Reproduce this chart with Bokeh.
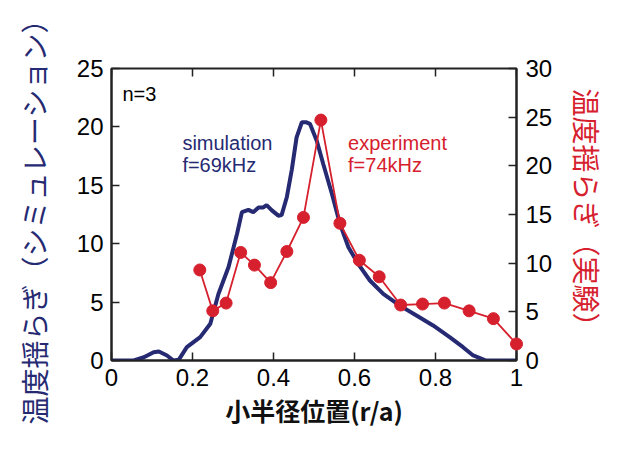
import math
from bokeh.plotting import figure
from bokeh.models import Range1d, LinearAxis, FixedTicker, Label
from bokeh.embed import file_html
from bokeh.resources import INLINE

# Simulation (left axis, 0-25)
sim_x = [0, 0.055, 0.08, 0.104, 0.117, 0.137, 0.153, 0.166, 0.186, 0.219, 0.244, 0.264,
         0.289, 0.31, 0.322, 0.338, 0.35, 0.363, 0.375, 0.383, 0.396, 0.412, 0.42, 0.433,
         0.445, 0.457, 0.47, 0.48, 0.49, 0.507, 0.523, 0.544, 0.564, 0.585, 0.609, 0.638,
         0.671, 0.712, 0.753, 0.794, 0.835, 0.868, 0.893, 0.925, 1.0]
sim_y = [0, 0, 0.28, 0.71, 0.77, 0.43, 0, 0.06, 1.14, 2.0, 3.14, 5.7,
         8.0, 10.85, 12.7, 12.9, 12.7, 13.1, 13.1, 13.3, 12.85, 12.4, 12.45, 14.0,
         16.3, 19.1, 20.4, 20.4, 20.26, 18.8, 16.8, 14.3, 11.7, 9.7, 8.28, 6.85,
         5.71, 4.7, 3.85, 3.0, 2.0, 1.14, 0.43, 0, 0]

# Experiment (right axis, 0-30)
exp_x = [0.218, 0.250, 0.283, 0.319, 0.353, 0.393, 0.433, 0.474, 0.517, 0.564, 0.612,
         0.661, 0.714, 0.768, 0.822, 0.883, 0.943, 1.0]
exp_y = [9.3, 5.1, 5.9, 11.1, 9.8, 8.0, 11.2, 14.7, 24.7, 14.1, 10.3,
         8.6, 5.7, 5.8, 5.9, 5.1, 4.3, 1.7]

x_ticks = [0, 0.2, 0.4, 0.6, 0.8, 1]
left_ticks = [0, 5, 10, 15, 20, 25]
right_ticks = [0, 5, 10, 15, 20, 25, 30]

NAVY = "#262a72"
RED = "#d6202e"
AXC = "#222222"
TICK_FONT = "Liberation Sans"
JP_FONT = "Noto Sans CJK JP"

p = figure(width=610, height=448, x_range=Range1d(0, 1), y_range=Range1d(0, 25),
           output_backend="svg", toolbar_location=None,
           min_border_left=111, min_border_right=93, min_border_top=68, min_border_bottom=88)
p.extra_y_ranges = {"right": Range1d(0, 30)}
p.xgrid.visible = False
p.ygrid.visible = False
p.outline_line_color = AXC
p.outline_line_width = 2
p.background_fill_color = "white"
p.border_fill_color = "white"

def style_axis(ax, ticks):
    ax.ticker = FixedTicker(ticks=ticks)
    ax.major_tick_in = 8
    ax.major_tick_out = 0
    ax.minor_tick_line_color = None
    ax.axis_line_width = 2
    ax.axis_line_color = AXC
    ax.major_tick_line_width = 1.5
    ax.major_tick_line_color = AXC
    ax.major_label_text_font = TICK_FONT
    ax.major_label_text_font_size = "24px"
    ax.major_label_text_color = "black"

# bottom axis
xa = p.xaxis[0]
style_axis(xa, x_ticks)
xa.major_label_standoff = 8
xa.major_label_overrides = {0: "0", 1: "1"}
xa.axis_label = "小半径位置(r/a)"
xa.axis_label_text_font = JP_FONT
xa.axis_label_text_font_size = "25px"
xa.axis_label_text_font_style = "bold"
xa.axis_label_text_color = "#111111"
xa.axis_label_standoff = 3

# left axis
ya = p.yaxis[0]
style_axis(ya, left_ticks)
ya.major_label_standoff = 8
ya.axis_label = "温度揺らぎ（シミュレーション）"
ya.axis_label_text_font = JP_FONT
ya.axis_label_text_font_size = "28px"
ya.axis_label_text_font_style = "normal"
ya.axis_label_text_color = NAVY
ya.axis_label_standoff = 20

# right axis
ra = LinearAxis(y_range_name="right")
style_axis(ra, right_ticks)
ra.major_label_standoff = 9
ra.axis_label = "温度揺らぎ（実験）"
ra.axis_label_text_font = JP_FONT
ra.axis_label_text_font_size = "28px"
ra.axis_label_text_font_style = "normal"
ra.axis_label_text_color = RED
ra.axis_label_standoff = 12
p.add_layout(ra, "right")

# top ticks (inward, no labels)
p.ray(x=x_ticks, y=[p.y_range.end] * len(x_ticks), length=8, length_units="screen",
      angle=-math.pi / 2, line_color=AXC, line_width=1.5)

# data
p.line(sim_x, sim_y, line_color=NAVY, line_width=4)
p.line(exp_x, exp_y, y_range_name="right", line_color=RED, line_width=1.8)
p.scatter(exp_x, exp_y, y_range_name="right", size=12, fill_color=RED, line_color=RED,
          level="overlay")

# annotations
def add_label(x, y, text, color, size="20px"):
    p.add_layout(Label(x=x, y=y, text=text, text_color=color, text_font=TICK_FONT,
                       text_font_size=size, text_baseline="alphabetic"))

add_label(0.027, 22.8, "n=3", "black", "20px")
add_label(0.175, 18.66, "simulation", NAVY)
add_label(0.175, 16.7, "f=69kHz", NAVY)
add_label(0.584, 18.66, "experiment", RED)
add_label(0.584, 16.7, "f=74kHz", RED)

open("out.html", "w").write(file_html(p, INLINE))
